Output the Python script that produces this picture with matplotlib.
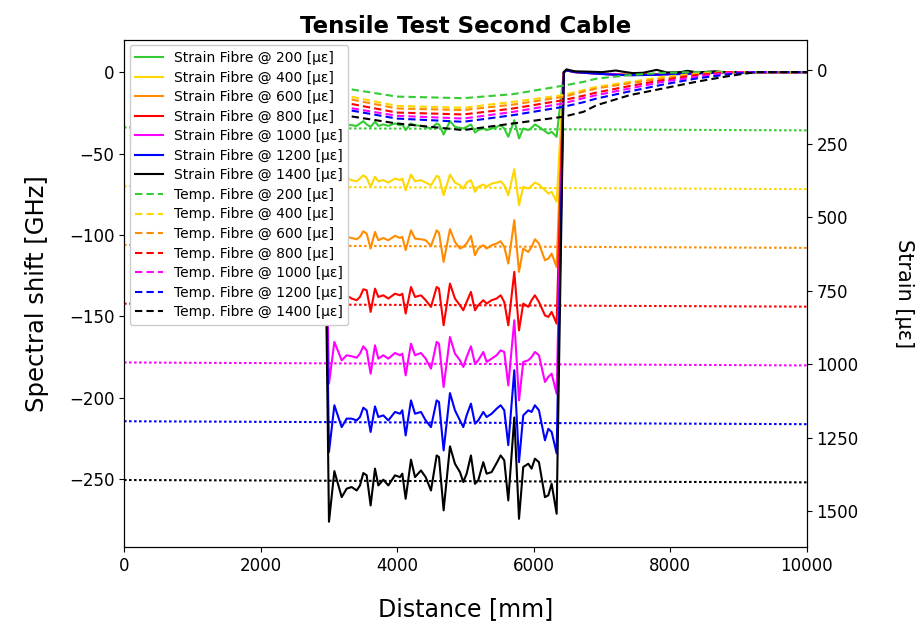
import matplotlib
matplotlib.use("Agg")
import matplotlib.pyplot as plt
import numpy as np

# ---------------- data ----------------
strain_levels = [200, 400, 600, 800, 1000, 1200, 1400]
colors = ["#33cc33", "#ffd700", "#ff8c00", "#ff0000", "#ff00ff", "#0000ff", "#000000"]

x_drop = [2918]
x_osc = [3001, 3080, 3187, 3260, 3333, 3407, 3455, 3504, 3553, 3611, 3675, 3724, 3797,
         3870, 3968, 4041, 4075, 4124, 4202, 4261, 4348, 4417, 4495, 4578, 4612, 4680,
         4773, 4846, 4919, 4968, 5017, 5080, 5139, 5187, 5261, 5310, 5383, 5456, 5515,
         5568, 5627, 5715, 5784, 5846, 5920, 5968, 6017, 6076, 6164, 6213, 6262, 6335]
x_tail = [6440, 6480, 6600, 6800, 7000, 7200, 7300, 7450, 7600, 7800, 7950, 8150,
          8250, 8400, 8650, 8800, 10000]

strain_200 = [-36.0, -30.0, -33.0, -32.1, -32.6, -33.0, -31.5, -30.1, -32.1, -33.6, -30.5, -33.0, -32.1,
              -33.0, -31.5, -32.6, -32.1, -35.6, -31.5, -32.6, -33.0, -33.6, -34.6, -31.5, -32.1, -38.3,
              -30.1, -33.6, -34.2, -34.6, -33.6, -32.1, -37.1, -35.6, -34.6, -35.6, -34.6, -33.6, -32.6,
              -34.6, -39.7, -29.5, -40.7, -34.6, -35.6, -34.2, -32.1, -33.6, -36.2, -37.7, -36.7, -39.7]
strain_400 = [-74.0, -63.0, -68.0, -65.3, -66.3, -67.0, -65.3, -63.3, -64.9, -70.4, -64.3, -67.0, -66.3,
              -67.8, -65.3, -66.3, -65.3, -72.5, -62.9, -67.0, -66.3, -67.8, -69.4, -63.7, -64.3, -75.6,
              -62.9, -67.8, -69.4, -71.5, -67.8, -66.3, -73.5, -70.4, -69.0, -70.4, -68.4, -67.8, -67.0,
              -69.4, -75.6, -59.6, -81.7, -70.4, -71.5, -69.8, -67.8, -69.0, -72.5, -74.5, -73.5, -79.6]
strain_600 = [-115.0, -98.0, -104.0, -101.1, -101.8, -102.6, -101.1, -97.7, -99.1, -108.3, -98.1, -103.2, -101.8,
              -103.2, -100.5, -101.8, -101.1, -109.3, -97.1, -102.2, -102.6, -103.2, -106.7, -97.1, -98.5, -116.5,
              -96.4, -104.2, -108.3, -107.3, -105.2, -100.5, -112.4, -108.3, -106.3, -108.3, -106.3, -105.2, -103.8,
              -107.3, -117.5, -90.9, -122.6, -108.3, -110.4, -107.3, -102.6, -105.2, -115.5, -114.5, -111.4, -119.6]
strain_800 = [-150.0, -133.0, -140.0, -137.0, -139.0, -140.0, -138.0, -133.3, -133.9, -147.2, -132.9, -138.0, -137.0,
              -139.0, -136.0, -137.0, -136.0, -148.2, -131.9, -138.0, -137.0, -140.0, -144.1, -131.9, -132.9, -155.4,
              -129.8, -139.0, -143.1, -146.2, -141.1, -134.9, -146.2, -143.1, -140.0, -142.1, -140.0, -139.0, -137.0,
              -141.1, -155.4, -122.6, -158.5, -142.1, -144.1, -140.0, -137.0, -141.1, -149.3, -150.3, -147.2, -154.4]
strain_1000 = [-191.2, -165.6, -176.9, -173.8, -174.4, -175.3, -172.8, -168.3, -170.8, -185.1, -167.7, -175.9, -173.8,
               -175.9, -172.4, -173.8, -172.8, -186.1, -166.7, -173.8, -172.4, -175.9, -182.0, -165.6, -166.7, -193.3,
               -162.6, -172.8, -176.9, -181.0, -174.9, -168.3, -179.0, -176.9, -171.8, -177.9, -175.9, -173.8, -170.8,
               -171.8, -192.3, -152.3, -201.5, -177.9, -176.9, -174.9, -171.8, -173.8, -190.2, -187.1, -185.1, -197.4]
strain_1200 = [-233.2, -204.5, -217.9, -212.7, -212.7, -213.8, -211.7, -206.0, -207.6, -220.9, -205.2, -211.7, -210.7,
               -213.8, -208.6, -209.7, -207.6, -223.0, -201.5, -209.7, -208.6, -213.8, -217.9, -201.5, -202.5, -232.2,
               -197.0, -207.6, -213.8, -217.9, -210.7, -203.5, -215.8, -213.8, -208.6, -211.7, -209.7, -206.6, -204.5,
               -207.6, -229.0, -183.0, -239.4, -210.7, -207.6, -208.6, -204.5, -207.6, -226.0, -218.9, -220.9, -234.0]
strain_1400 = [-276.0, -244.9, -260.9, -255.7, -254.7, -256.8, -253.7, -246.1, -247.5, -266.0, -243.4, -253.7, -250.2,
               -253.7, -247.5, -248.6, -246.5, -261.9, -237.9, -248.6, -244.5, -248.6, -256.8, -235.3, -236.3, -269.0,
               -229.7, -240.4, -245.5, -251.6, -246.5, -235.3, -252.7, -250.6, -239.4, -246.5, -245.5, -240.0, -235.3,
               -238.3, -262.9, -212.0, -274.2, -242.4, -240.4, -243.4, -237.3, -239.4, -260.9, -259.8, -252.7, -271.1]

tail_200 = [0, 1.0, 0.2, -0.3, -0.8, -1.2, -1.5, -1.8, -1.6, -1.2, -1.0, -0.8, -0.6, -0.4, -0.2, 0, 0]
tail_400 = [0, 1.2, 0.0, -0.5, -1.0, -1.4, -1.6, -1.5, -1.4, -1.2, -1.0, -0.9, -0.8, -0.6, -0.3, 0, 0]
tail_600 = [0, 1.1, 0.1, -0.4, -0.9, -1.3, -1.5, -1.6, -1.5, -1.3, -1.1, -0.9, -0.7, -0.5, -0.3, 0, 0]
tail_800 = [0, 1.0, 0.0, -0.6, -1.1, -1.5, -1.7, -1.7, -1.6, -1.4, -1.2, -1.0, -0.8, -0.6, -0.3, 0, 0]
tail_1000 = [0, 1.2, 0.1, -0.5, -1.0, -1.4, -1.6, -1.8, -1.7, -1.5, -1.3, -1.1, -0.9, -0.7, -0.4, 0, 0]
tail_1200 = [0, 1.1, 0.0, -0.6, -1.2, -1.6, -1.8, -1.9, -1.8, -1.6, -1.4, -1.2, -1.0, -0.8, -0.5, 0, 0]
tail_1400 = [0, 1.7, 0.5, 0.3, 0.0, 1.0, 0.3, -0.6, -0.4, 1.4, -0.2, 0.0, 0.8, -0.2, 0.5, 0.0, 0.0]

x_temp = [3000, 3211, 3992, 4968, 5700, 6432, 6725, 6920, 7408, 7896, 8384, 8872, 9117, 9263, 10000]
temp_200 = [-9.6, -9.8, -15.0, -16.0, -13.5, -8.3, -6.0, -4.0, -1.8, -0.4, 0, 0, 0, 0, 0]
temp_400 = [-13.8, -14.1, -20.7, -21.9, -18.2, -14.1, -11.0, -9.0, -6.0, -2.9, -1.0, 0, 0, 0, 0]
temp_600 = [-15.5, -15.8, -22.3, -23.3, -19.9, -15.2, -12.0, -10.0, -6.8, -3.9, -1.4, 0, 0, 0, 0]
temp_800 = [-18.3, -18.6, -24.8, -26.0, -22.3, -17.2, -14.5, -12.5, -8.5, -4.9, -1.8, 0, 0, 0, 0]
temp_1000 = [-21.0, -21.3, -26.8, -28.5, -24.4, -19.2, -16.0, -14.1, -10.0, -5.9, -2.9, -0.3, 0, 0, 0]
temp_1200 = [-22.4, -22.7, -28.5, -30.5, -26.4, -21.3, -18.5, -16.2, -11.8, -7.6, -3.9, -1.2, -0.4, 0, 0]
temp_1400 = [-26.0, -26.4, -31.5, -35.6, -31.5, -27.4, -24.4, -20.3, -14.1, -10.0, -5.9, -2.3, -0.8, 0, 0]

ref_x = [0, 10000]
ref_start = [194, 394, 594, 794, 994, 1194, 1394]
ref_end = [204, 404, 604, 804, 1004, 1204, 1402]

strain_series = [strain_200, strain_400, strain_600, strain_800, strain_1000, strain_1200, strain_1400]
tail_series = [tail_200, tail_400, tail_600, tail_800, tail_1000, tail_1200, tail_1400]
temp_series = [temp_200, temp_400, temp_600, temp_800, temp_1000, temp_1200, temp_1400]

# ---------------- plot ----------------
plt.rcParams['font.family'] = ['DejaVu Sans']
fig = plt.figure(figsize=(9.19, 6.23), dpi=100)
ax = fig.add_axes([0.135, 0.122, 0.743, 0.814])
ax2 = ax.twinx()

xs = x_drop + x_osc + x_tail
for lvl, c, s, t in zip(strain_levels, colors, strain_series, tail_series):
    ax.plot(xs, [0.0] + s + t, color=c, lw=1.5, label=f"Strain Fibre @ {lvl} [με]")
for lvl, c, tv in zip(strain_levels, colors, temp_series):
    ax.plot(x_temp, tv, color=c, lw=1.5, ls=(0, (3.5, 2.0)), label=f"Temp. Fibre @ {lvl} [με]")
for c, a, b in zip(colors, ref_start, ref_end):
    ax2.plot(ref_x, [a, b], color=c, lw=1.5, ls=(0, (1.2, 1.2)))

ax.set_xlim(0, 10000)
ax.set_ylim(-291.5, 19.8)
ax2.set_ylim(1622, -104)
ax.set_yticks([0, -50, -100, -150, -200, -250])
ax2.set_yticks([0, 250, 500, 750, 1000, 1250, 1500])
ax.set_xticks([0, 2000, 4000, 6000, 8000, 10000])
for a in (ax, ax2):
    a.tick_params(labelsize=12)

ax.set_xlabel("Distance [mm]", fontsize=17, labelpad=16)
ax.set_ylabel("Spectral shift [GHz]", fontsize=17.5, labelpad=14)
ax2.set_ylabel("Strain [με]", fontsize=15, rotation=270, labelpad=40)
ax.set_title("Tensile Test Second Cable", fontsize=16.5, fontweight='bold', pad=5)

leg = ax.legend(loc='upper left', fontsize=10, framealpha=1.0, handlelength=2.0,
                borderaxespad=0.4, labelspacing=0.4)
ax.set_zorder(ax2.get_zorder() + 1)
ax.patch.set_visible(False)

fig.savefig("out.png", dpi=100)
